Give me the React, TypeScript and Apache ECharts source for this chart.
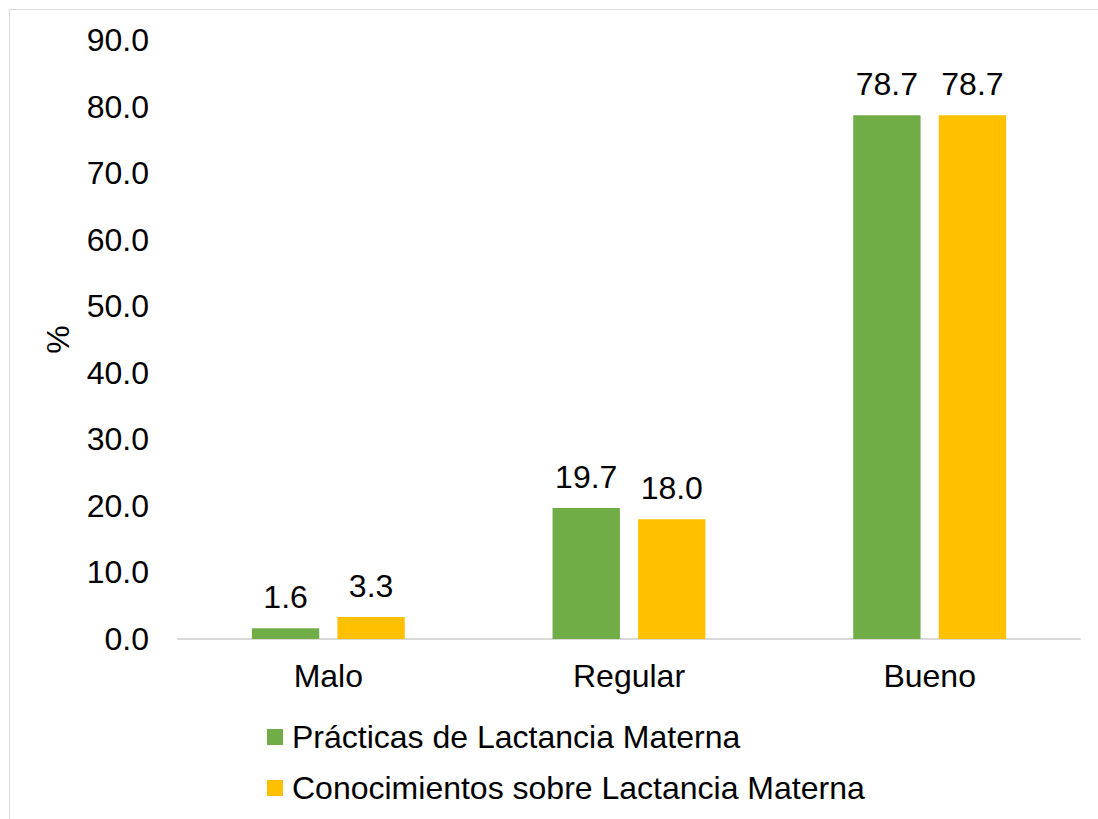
import React, { useEffect, useRef } from "react";
import * as echarts from "echarts";

const categories = ["Malo", "Regular", "Bueno"];
const practicas = [1.6, 19.7, 78.7];
const conocimientos = [3.3, 18.0, 78.7];
const seriesNames = ["Prácticas de Lactancia Materna", "Conocimientos sobre Lactancia Materna"];
const yTicks = { min: 0, max: 90, interval: 10 };

const FONT = "'Liberation Sans', Arial, sans-serif";
const FS = 32;

export default function App() {
  const ref = useRef<HTMLDivElement>(null);
  useEffect(() => {
    if (!ref.current) return;
    const chart = echarts.init(ref.current, null, { renderer: "svg" });
    const label = {
      show: true,
      position: "top",
      distance: 15,
      color: "#000",
      fontSize: FS,
      fontFamily: FONT,
      formatter: (p: any) => Number(p.value).toFixed(1),
    };
    const legendText = { fontSize: FS, fontFamily: FONT, color: "#000", padding: [0, 0, 0, 4] };
    chart.setOption({
      animation: false,
      backgroundColor: "#fff",
      textStyle: { fontFamily: FONT },
      graphic: [
        {
          type: "rect",
          shape: { x: 9.5, y: 9.5, width: 1200, height: 1000 },
          style: { fill: "none", stroke: "#d9d9d9", lineWidth: 1 },
          silent: true,
        },
      ],
      grid: { left: 178, right: 18, top: 40, bottom: 180, containLabel: false },
      legend: [
        {
          data: [seriesNames[0]],
          left: 262,
          top: 716,
          orient: "vertical",
          icon: "rect",
          itemWidth: 16,
          itemHeight: 16,
          textStyle: legendText,
        },
        {
          data: [seriesNames[1]],
          left: 262,
          top: 767,
          orient: "vertical",
          icon: "rect",
          itemWidth: 16,
          itemHeight: 16,
          textStyle: legendText,
        },
      ],
      xAxis: {
        type: "category",
        data: categories,
        axisLine: { lineStyle: { color: "#d9d9d9", width: 2 } },
        axisTick: { show: false },
        axisLabel: { color: "#000", fontSize: FS, fontFamily: FONT, margin: 21 },
      },
      yAxis: {
        type: "value",
        min: yTicks.min,
        max: yTicks.max,
        interval: yTicks.interval,
        name: "%",
        nameLocation: "middle",
        nameGap: 104,
        nameRotate: 90,
        nameTextStyle: { color: "#000", fontSize: FS, fontFamily: FONT },
        axisLine: { show: false },
        axisTick: { show: false },
        splitLine: { show: false },
        axisLabel: {
          color: "#000",
          fontSize: FS,
          fontFamily: FONT,
          margin: 29,
          formatter: (v: number) => v.toFixed(1),
        },
      },
      series: [
        {
          name: seriesNames[0],
          type: "bar",
          data: practicas,
          barWidth: "22.4%",
          barGap: "27%",
          itemStyle: { color: "#70AD47" },
          label,
        },
        {
          name: seriesNames[1],
          type: "bar",
          data: conocimientos,
          barWidth: "22.4%",
          barGap: "27%",
          itemStyle: { color: "#FFC000" },
          label,
        },
      ],
    });
    return () => chart.dispose();
  }, []);
  return (
    <div
      ref={ref}
      style={{ position: "fixed", left: 0, top: 0, width: 1098, height: 819 }}
    />
  );
}
